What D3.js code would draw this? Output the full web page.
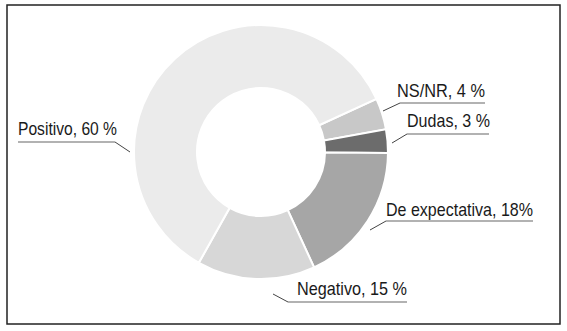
<!DOCTYPE html>
<html>
<head>
<meta charset="utf-8">
<script src="https://cdn.jsdelivr.net/npm/d3@7"></script>
<style>
  html, body { margin: 0; padding: 0; background: #fff; }
</style>
</head>
<body>
<div id="chart"></div>
<script>
// --- Data ---
const categories = ["NS/NR", "Dudas", "De expectativa", "Negativo", "Positivo"];
const values = [4, 3, 18, 15, 60];
const labels = ["NS/NR, 4 %", "Dudas, 3 %", "De expectativa, 18%", "Negativo, 15 %", "Positivo, 60 %"];
const colors = ["#c8c8c8", "#6c6c6c", "#a6a6a6", "#d7d7d7", "#ebebeb"];

// --- Label layout (text box, underline, leader end) ---
const labelLayout = [
  { tx: 397, tw: 88,  ty: 97,  uy: 103, ux0: 400, ux1: 485, lx: 383, ly: 111, side: "left" },
  { tx: 407, tw: 83,  ty: 127, uy: 134, ux0: 407, ux1: 489, lx: 392, ly: 143, side: "left" },
  { tx: 386, tw: 147, ty: 216, uy: 221, ux0: 386, ux1: 533, lx: 370, ly: 230, side: "left" },
  { tx: 297, tw: 110, ty: 295, uy: 302, ux0: 288, ux1: 407, lx: 273, ly: 294, side: "left" },
  { tx: 18,  tw: 99,  ty: 135, uy: 142, ux0: 18,  ux1: 115, lx: 130, ly: 152, side: "right" }
];

// --- Dimensions ---
const width = 567;
const height = 331;
const cx = 261, cy = 152;
const outerR = 127, innerR = 64;
const startDeg = 65.3;

const svg = d3.select("#chart").append("svg")
  .attr("width", width)
  .attr("height", height);

// frame
svg.append("rect")
  .attr("x", 7).attr("y", 5)
  .attr("width", 553).attr("height", 319)
  .attr("fill", "none")
  .attr("stroke", "#222")
  .attr("stroke-width", 1.5);

// --- Pie ---
const start = startDeg * Math.PI / 180;
const pie = d3.pie().sort(null).value(d => d)
  .startAngle(start).endAngle(start + 2 * Math.PI);
const arc = d3.arc().innerRadius(innerR).outerRadius(outerR);

const g = svg.append("g").attr("transform", `translate(${cx},${cy})`);

g.selectAll("path")
  .data(pie(values))
  .join("path")
  .attr("d", arc)
  .attr("fill", (d, i) => colors[i])
  .attr("stroke", "#fff")
  .attr("stroke-width", 2);

// --- Labels ---
const lab = svg.append("g")
  .attr("font-family", "'Liberation Sans', sans-serif")
  .attr("font-size", "19px")
  .attr("fill", "#1a1a1a");

labels.forEach((t, i) => {
  const L = labelLayout[i];
  lab.append("text")
    .attr("x", L.tx).attr("y", L.ty)
    .attr("textLength", L.tw)
    .attr("lengthAdjust", "spacingAndGlyphs")
    .text(t);
  lab.append("line")
    .attr("x1", L.ux0).attr("x2", L.ux1)
    .attr("y1", L.uy).attr("y2", L.uy)
    .attr("stroke", "#666").attr("stroke-width", 1.2);
  const ex = L.side === "left" ? L.ux0 : L.ux1;
  lab.append("line")
    .attr("x1", ex).attr("y1", L.uy)
    .attr("x2", L.lx).attr("y2", L.ly)
    .attr("stroke", "#444").attr("stroke-width", 1);
});
</script>
</body>
</html>
